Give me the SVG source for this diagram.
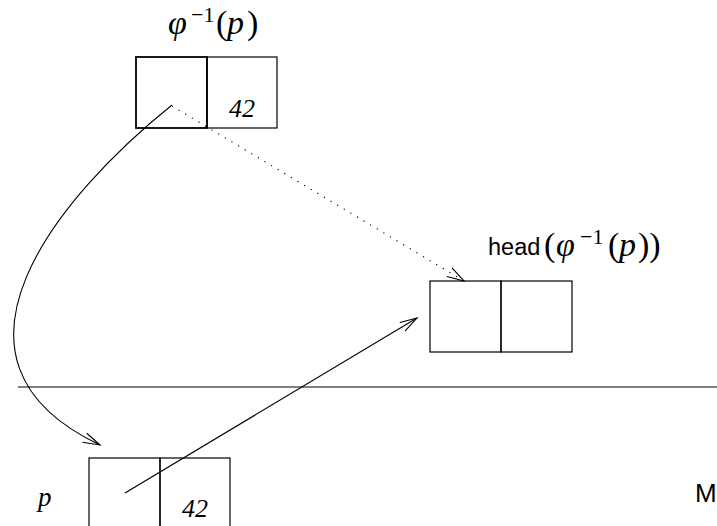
<svg xmlns="http://www.w3.org/2000/svg" width="717" height="526" viewBox="0 0 717 526">
<style>
.box{fill:none;stroke:#000;stroke-width:1.2}
.bold{stroke-width:1.8}
.math{font-family:"Liberation Serif","DejaVu Serif",serif;font-size:34px;fill:#000}
.num{font-family:"Liberation Serif","DejaVu Serif",serif;font-size:26px;font-style:italic;fill:#000}
.it{font-style:italic}
.sup{font-size:22px}
.sans{font-family:"Liberation Sans","DejaVu Sans",sans-serif;font-size:24px;fill:#000}
.conn{fill:none;stroke:#000;stroke-width:1.1}
.dot{stroke-dasharray:1.2 6.5}
</style>
<defs>
<marker id="arr" markerUnits="userSpaceOnUse" markerWidth="30" markerHeight="20" viewBox="-20 -10 22 20" refX="0" refY="0" orient="auto">
<path d="M-17,-5 L0,0 L-17,5" fill="none" stroke="#000" stroke-width="1.1"/>
</marker>
</defs>
<rect width="717" height="526" fill="#fff"/>
<line x1="18" y1="387" x2="717" y2="387" stroke="#000" stroke-width="1.2"/>
<g id="node-phi-inv">
<rect class="box bold" x="136" y="57" width="71" height="71"/>
<rect class="box" x="207" y="57" width="70" height="71"/>
<text class="num" x="229" y="117">42</text>
<text class="math" y="34"><tspan class="it" x="168">φ</tspan><tspan class="sup" x="191" dy="-12">−1</tspan><tspan x="216" dy="12">(</tspan><tspan class="it" x="227">p</tspan><tspan x="247">)</tspan></text>
</g>
<g id="node-head">
<rect class="box" x="430" y="281" width="71" height="71"/>
<rect class="box" x="501" y="281" width="71" height="71"/>
<text class="math" y="256"><tspan class="sans" x="488" dy="-1" style="font-size:23.5px">head</tspan><tspan x="544" dy="1">(</tspan><tspan class="it" x="556">φ</tspan><tspan class="sup" x="580" dy="-12">−1</tspan><tspan x="608" dy="12">(</tspan><tspan class="it" x="619">p</tspan><tspan x="638">))</tspan></text>
</g>
<g id="node-p">
<rect class="box" x="89" y="458" width="71" height="80"/>
<rect class="box" x="160" y="458" width="70" height="80"/>
<text class="num" x="182" y="517">42</text>
<text class="math it" x="38" y="506" style="font-size:27px">p</text>
</g>
<g id="label-M">
<text class="sans" x="695" y="502" style="font-size:26px">M</text>
</g>
<g id="connectors">
<path class="conn dot" d="M172,106 L464,281" marker-end="url(#arr)"/>
<path class="conn" d="M172,105 C60,195 -80,360 100,445" marker-end="url(#arr)"/>
<path class="conn" d="M125,493 L417,318" marker-end="url(#arr)"/>
</g>
</svg>
